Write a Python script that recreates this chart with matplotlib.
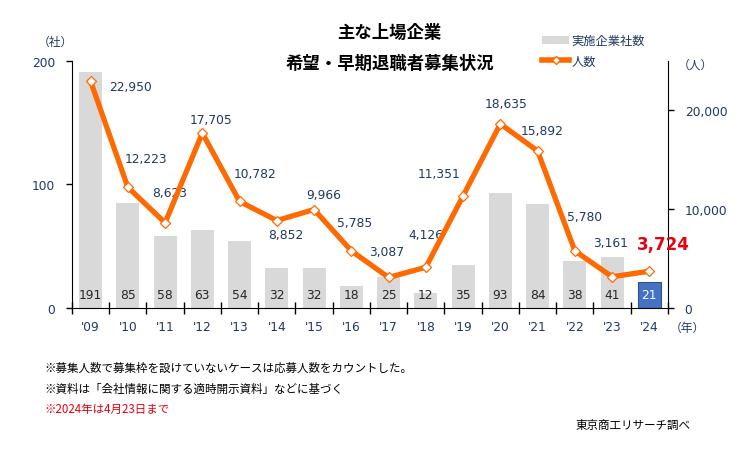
import matplotlib
matplotlib.use('Agg')
import matplotlib.pyplot as plt
import numpy as np
from matplotlib.lines import Line2D
from matplotlib.patches import Patch

plt.rcParams['font.family'] = ['DejaVu Sans', 'Noto Sans CJK JP']
JP = ['Noto Sans CJK JP', 'DejaVu Sans']

years = ["'09", "'10", "'11", "'12", "'13", "'14", "'15", "'16",
         "'17", "'18", "'19", "'20", "'21", "'22", "'23", "'24"]
companies = [191, 85, 58, 63, 54, 32, 32, 18, 25, 12, 35, 93, 84, 38, 41, 21]
people = [22950, 12223, 8623, 17705, 10782, 8852, 9966, 5785,
          3087, 4126, 11351, 18635, 15892, 5780, 3161, 3724]

# label offsets (pixels) for the line values, placed by hand like the original
label_dx = [40, 18, 5, 9, 15, 9, 10, 3, -2, 0, -24, 6, 5, 10, -2, 14]
label_dy = [-5, 29, 30, 14, 28, -14, 15, 28, 26, 33, 22, 20, 20, 34, 34, 27]

navy = '#1F3864'
orange = '#FF6A00'
gray = '#D9D9D9'

fig = plt.figure(figsize=(7.45, 4.6), dpi=100)
ax = fig.add_axes([0.0966, 0.3283, 0.80, 0.5369])
ax2 = ax.twinx()

x = np.arange(len(years))
bar_colors = [gray] * (len(years) - 1) + ['#4472C4']
edge_colors = ['none'] * (len(years) - 1) + ['#2F4F8F']
ax.bar(x, companies, width=0.62, color=bar_colors, edgecolor=edge_colors, linewidth=0.8, zorder=2)
for i, c in enumerate(companies):
    col = 'white' if i == len(companies) - 1 else '#262626'
    ax.text(i, 11, str(c), ha='center', va='center', fontsize=8.8, color=col, zorder=3)

ax2.plot(x, people, color=orange, linewidth=3.8, marker='D', markersize=5.5,
         markerfacecolor='white', markeredgecolor=orange, markeredgewidth=0.9, zorder=4)
for i, v in enumerate(people):
    if i == len(people) - 1:
        ax2.annotate(f'{v:,}', (i, v), xytext=(label_dx[i], label_dy[i]), textcoords='offset pixels',
                     ha='center', va='center', fontsize=12, fontweight='bold', color='#E60012')
    else:
        ax2.annotate(f'{v:,}', (i, v), xytext=(label_dx[i], label_dy[i]), textcoords='offset pixels',
                     ha='center', va='center', fontsize=8.8, color=navy)

ax.set_xlim(-0.5, len(years) - 0.5)
ax.set_ylim(0, 200)
ax2.set_ylim(0, 25000)
ax.set_yticks([0, 100, 200])
ax2.set_yticks([0, 10000, 20000])
ax2.set_yticklabels(['0', '10,000', '20,000'])

ax.set_xticks(x)
ax.set_xticklabels(years)
ax.set_xticks(np.arange(-0.5, len(years)), minor=True)
ax.tick_params(axis='x', which='major', length=0, pad=9, labelsize=8.8, labelcolor=navy)
ax.tick_params(axis='x', which='minor', direction='inout', length=9, width=1)
ax.tick_params(axis='y', direction='out', length=4, width=1, labelsize=8.8, labelcolor=navy, pad=8)
ax2.tick_params(axis='y', direction='out', length=4, width=1, labelsize=8.8, labelcolor=navy, pad=8)

for a in (ax, ax2):
    a.spines['top'].set_visible(False)
ax2.spines['left'].set_visible(False)
ax2.spines['bottom'].set_visible(False)
ax.spines['right'].set_visible(False)

# titles
fig.text(0.523, 0.928, '主な上場企業', ha='center', va='center', fontsize=12.5, fontweight='bold', family=JP)
fig.text(0.523, 0.862, '希望・早期退職者募集状況', ha='center', va='center', fontsize=12.5, fontweight='bold', family=JP)

# units
fig.text(0.074, 0.908, '（社）', ha='center', va='center', fontsize=8.5, color=navy, family=JP)
fig.text(0.933, 0.858, '（人）', ha='center', va='center', fontsize=8.5, color=navy, family=JP)
fig.text(0.922, 0.287, '（年）', ha='center', va='center', fontsize=8.5, color=navy, family=JP)

# legend
handles = [Patch(facecolor=gray, edgecolor='none'),
           Line2D([0], [0], color=orange, linewidth=4, marker='D', markersize=4,
                  markerfacecolor='white', markeredgecolor=orange)]
leg = fig.legend(handles, ['実施企業社数', '人数'], loc='center left', bbox_to_anchor=(0.713, 0.887),
                 frameon=False, handlelength=2.2, handletextpad=0.2,
                 labelspacing=0.6, prop={'family': JP, 'size': 8.8})
for t in leg.get_texts():
    t.set_color(navy)

# footnotes
fig.text(0.060, 0.200, '※募集人数で募集枠を設けていないケースは応募人数をカウントした。', ha='left', va='center', fontsize=8.3, family=JP)
fig.text(0.060, 0.154, '※資料は「会社情報に関する適時開示資料」などに基づく', ha='left', va='center', fontsize=8.3, family=JP)
fig.text(0.060, 0.109, '※2024年は4月23日まで', ha='left', va='center', fontsize=8.3, color='#E60012', family=JP)
fig.text(0.927, 0.076, '東京商工リサーチ調べ', ha='right', va='center', fontsize=8.3, family=JP)

fig.savefig('out.png', dpi=100)
